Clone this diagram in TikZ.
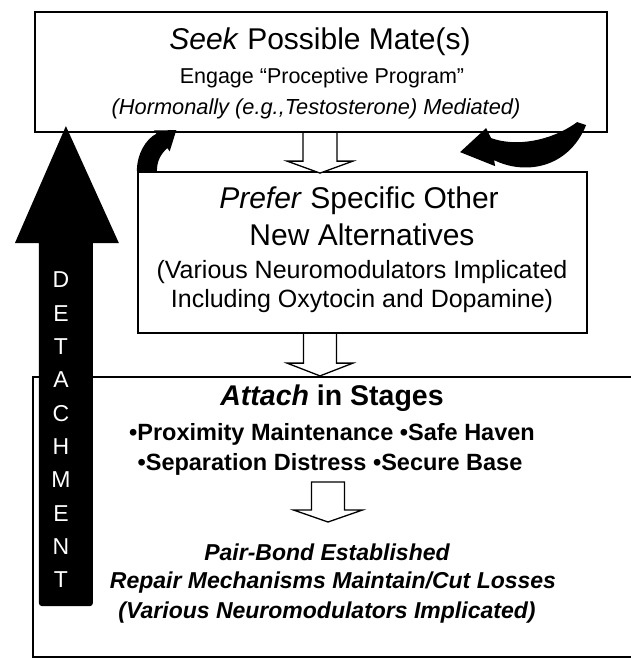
\documentclass[tikz,border=0pt]{standalone}
\usepackage{fontspec}
\setmainfont{Liberation Sans}
\usetikzlibrary{calc}
\begin{document}
\begin{tikzpicture}[x=1pt,y=-1pt,
  box/.style={draw, line width=2.2pt, fill=white, inner sep=0pt},
  txt/.style={anchor=base, inner sep=0pt},
  hollow/.style={draw, line width=1.3pt, fill=white, line join=miter},
  blackarrow/.style={fill=black},
  detl/.style={text=white, font=\fontsize{23}{23}\selectfont, inner sep=0pt},
  fbig/.style={font=\fontsize{30}{30}\selectfont},
  fmid/.style={font=\fontsize{25}{25}\selectfont},
  fatt/.style={font=\fontsize{28.5}{28}\selectfont\bfseries},
  fbul/.style={font=\fontsize{23.5}{23}\selectfont\bfseries},
  fpair/.style={font=\fontsize{23}{23}\selectfont\bfseries\itshape}]
\useasboundingbox (0,0) rectangle (631,658);
\fill[white] (0,0) rectangle (631,658);

% boxes
\node[box, minimum width=572pt, minimum height=120pt] (seek) at (321,72) {};
\node[box, minimum width=449pt, minimum height=161pt] (prefer) at (362.5,252.5) {};
\node[box, minimum width=606pt, minimum height=280pt] (attach) at (336,517) {};

% top box text
\node[txt, fbig] (t1) at (320,50) {\textit{Seek} Possible Mate(s)};
\node[txt, font=\fontsize{21.5}{21}\selectfont] (t2) at (322,84) {Engage “Proceptive Program"};
\node[txt, font=\fontsize{21.8}{21}\selectfont\itshape] (t3) at (316,115) {(Hormonally (e.g.,Testosterone) Mediated)};

% prefer box text
\node[txt, fbig] (p1) at (359,208) {\textit{Prefer} Specific Other};
\node[txt, fbig] (p2) at (362,245) {New Alternatives};
\node[txt, fmid] (p3) at (362,278) {(Various Neuromodulators Implicated};
\node[txt, fmid] (p4) at (362,307) {Including Oxytocin and Dopamine)};

% attach box text
\node[txt, fatt] (a1) at (332,405) {\textit{Attach} in Stages};
\node[txt, fbul] (a2) at (332,440) {•Proximity Maintenance •Safe Haven};
\node[txt, fbul] (a3) at (330,470) {•Separation Distress •Secure Base};
\node[txt, fpair] (a4) at (327,560) {Pair-Bond Established};
\node[txt, fpair] (a5) at (333,588) {Repair Mechanisms Maintain/Cut Losses};
\node[txt, fpair] (a6) at (327,618) {(Various Neuromodulators Implicated)};

% hollow arrows
\coordinate (h1) at ($(seek.south)+(-1,0)$);
\draw[hollow] ($(h1)+(-17,0)$) -- ++(0,28) -- ++(-16,0) -- ($(h1)+(0,40)$)
  -- ($(h1)+(33,28)$) -- ++(-16,0) -- ($(h1)+(17,0)$);
\coordinate (h2) at (h1 |- prefer.south);
\draw[hollow] ($(h2)+(-16.5,0)$) -- ++(0,29) -- ++(-16.5,0) -- (h2 |- attach.north)
  -- ($(h2)+(33,29)$) -- ++(-16.5,0) -- ($(h2)+(16.5,0)$);
\coordinate (h3) at ($(a3.base)+(-2,12)$);
\draw[hollow] ($(h3)+(-16.5,0)$) -- ++(0,28) -- ++(-18,0) -- ($(h3)+(0,40)$)
  -- ($(h3)+(34.5,28)$) -- ++(-18,0) -- ($(h3)+(16.5,0)$) -- cycle;

% curved arrows
\fill[blackarrow, shift={(prefer.north west)}]
  (0,0) .. controls (0,-17) and (9,-32) .. (19.6,-37.2) -- (17.2,-40.4) -- (39.4,-40.8)
  -- (32.8,-19.6) -- (30.4,-22.8) .. controls (24,-17) and (20,-10) .. (20,0) -- cycle;
\fill[blackarrow, shift={(seek.south east)}]
  (-148,19) -- (-122,-5) -- (-117,5) .. controls (-92,14) and (-57,8) .. (-31,-11)
  -- (-22,-8) .. controls (-40,36) and (-84,42) .. (-114,27) -- (-113,33) -- cycle;

% detachment arrow
\coordinate (dtip) at ($(seek.south west)+(32,-7)$);
\fill[blackarrow, shift={(dtip)}]
  (-51,117) -- (0,0) -- (53,117) -- (27,117)
  {[rounded corners=3pt] -- (27,480) -- (-27,480)} -- (-27,117) -- cycle;
\foreach \l [count=\i] in {D,E,T,A,C,H,M,E,N,T}
  \node[detl] (d\i) at (61,{280+33.33*(\i-1)}) {\l};
\end{tikzpicture}
\end{document}
